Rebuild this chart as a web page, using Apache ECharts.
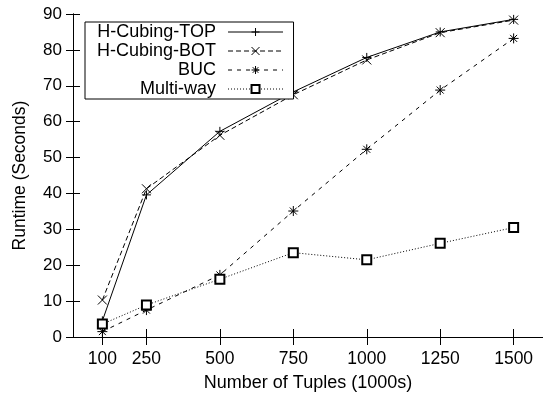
<!DOCTYPE html>
<html style="height: 100%">
<head>
<meta charset="utf-8">
<script src="https://cdn.jsdelivr.net/npm/echarts@6/dist/echarts.min.js"></script>
</head>
<body style="height: 100%; margin: 0; background: #fff">
<div id="container" style="width: 543px; height: 398px"></div>
<script type="text/javascript">
var tuples = [100, 250, 500, 750, 1000, 1250, 1500];
var hcubingTop = [4.5, 39.6, 57.3, 68.3, 77.9, 85.0, 88.5];
var hcubingBot = [10.3, 41.3, 56.2, 67.5, 77.2, 84.8, 88.3];
var buc = [1.5, 7.5, 17.3, 35.1, 52.3, 68.8, 83.2];
var multiway = [3.6, 8.9, 16.1, 23.5, 21.5, 26.1, 30.5];
var yTicks = [0, 10, 20, 30, 40, 50, 60, 70, 80, 90];

var font = 'Liberation Sans';
var plusSym = 'path://M0,5L10,5M5,0L5,10';
var crossSym = 'path://M0,0L10,10M10,0L0,10';
var starSym = 'path://M0,5L10,5M5,0L5,10M1.5,1.5L8.5,8.5M8.5,1.5L1.5,8.5';

function pairs(ys) {
    return tuples.map(function (x, i) { return [x, ys[i]]; });
}

function mkSeries(name, ys, symbol, size, dash) {
    return {
        name: name,
        type: 'line',
        data: pairs(ys),
        symbol: symbol,
        symbolSize: size,
        color: '#000',
        itemStyle: {color: '#000', borderColor: '#000', borderWidth: 1},
        lineStyle: {color: '#000', width: 1, type: dash},
        emphasis: {disabled: true},
        animation: false
    };
}

var myChart = echarts.init(document.getElementById('container'));
var option = {
    backgroundColor: '#fff',
    textStyle: {fontFamily: font},
    grid: {left: 73, top: 14, width: 472, bottom: 61, show: false},
    legend: {
        left: 85,
        top: 22,
        orient: 'vertical',
        align: 'right',
        itemWidth: 55,
        itemHeight: 10,
        itemGap: 1,
        padding: [1, 10, 1, 12],
        borderColor: '#000',
        borderWidth: 1,
        backgroundColor: '#fff',
        lineStyle: {width: 1},
        itemStyle: {borderWidth: 1},
        textStyle: {fontFamily: font, fontSize: 18, color: '#000', padding: [0, 7, 0, 0]},
        data: ['H-Cubing-TOP', 'H-Cubing-BOT', 'BUC', 'Multi-way']
    },
    xAxis: [{
        type: 'value',
        min: 0,
        max: 1600,
        name: 'Number of Tuples (1000s)',
        nameLocation: 'middle',
        nameGap: 37,
        nameTextStyle: {fontSize: 18, color: '#000', fontFamily: font},
        axisLine: {lineStyle: {color: '#000', width: 1}},
        axisTick: {inside: true, length: 8, customValues: tuples, lineStyle: {color: '#000'}},
        axisLabel: {
            customValues: tuples, fontSize: 17.5, color: '#000', margin: 13, fontFamily: font,
            formatter: function (v) { return String(v); }
        },
        splitLine: {show: false}
    }, {
        type: 'value',
        position: 'top',
        min: 0,
        max: 1600,
        axisLine: {lineStyle: {color: '#000', width: 1}},
        axisTick: {inside: true, length: 8, customValues: tuples, lineStyle: {color: '#000'}},
        axisLabel: {show: false},
        splitLine: {show: false}
    }],
    yAxis: [{
        type: 'value',
        min: 0,
        max: 90,
        interval: 10,
        name: 'Runtime (Seconds)',
        nameLocation: 'middle',
        nameGap: 44,
        nameTextStyle: {fontSize: 17.5, color: '#000', fontFamily: font},
        axisLine: {show: true, lineStyle: {color: '#000', width: 1}},
        axisTick: {show: true, inside: true, length: 7, customValues: yTicks, lineStyle: {color: '#000'}},
        axisLabel: {customValues: yTicks, fontSize: 17, color: '#000', margin: 11, fontFamily: font},
        splitLine: {show: false}
    }, {
        type: 'value',
        position: 'right',
        min: 0,
        max: 90,
        interval: 10,
        axisLine: {show: true, lineStyle: {color: '#000', width: 1}},
        axisTick: {show: true, inside: true, length: 7, lineStyle: {color: '#000'}},
        axisLabel: {show: false},
        splitLine: {show: false}
    }],
    series: [
        mkSeries('H-Cubing-TOP', hcubingTop, plusSym, 9, 'solid'),
        mkSeries('H-Cubing-BOT', hcubingBot, crossSym, 9, [5, 3]),
        mkSeries('BUC', buc, starSym, 10, [4, 5]),
        mkSeries('Multi-way', multiway, 'emptyRect', 9, [1, 2])
    ]
};
myChart.setOption(option);
</script>
</body>
</html>
